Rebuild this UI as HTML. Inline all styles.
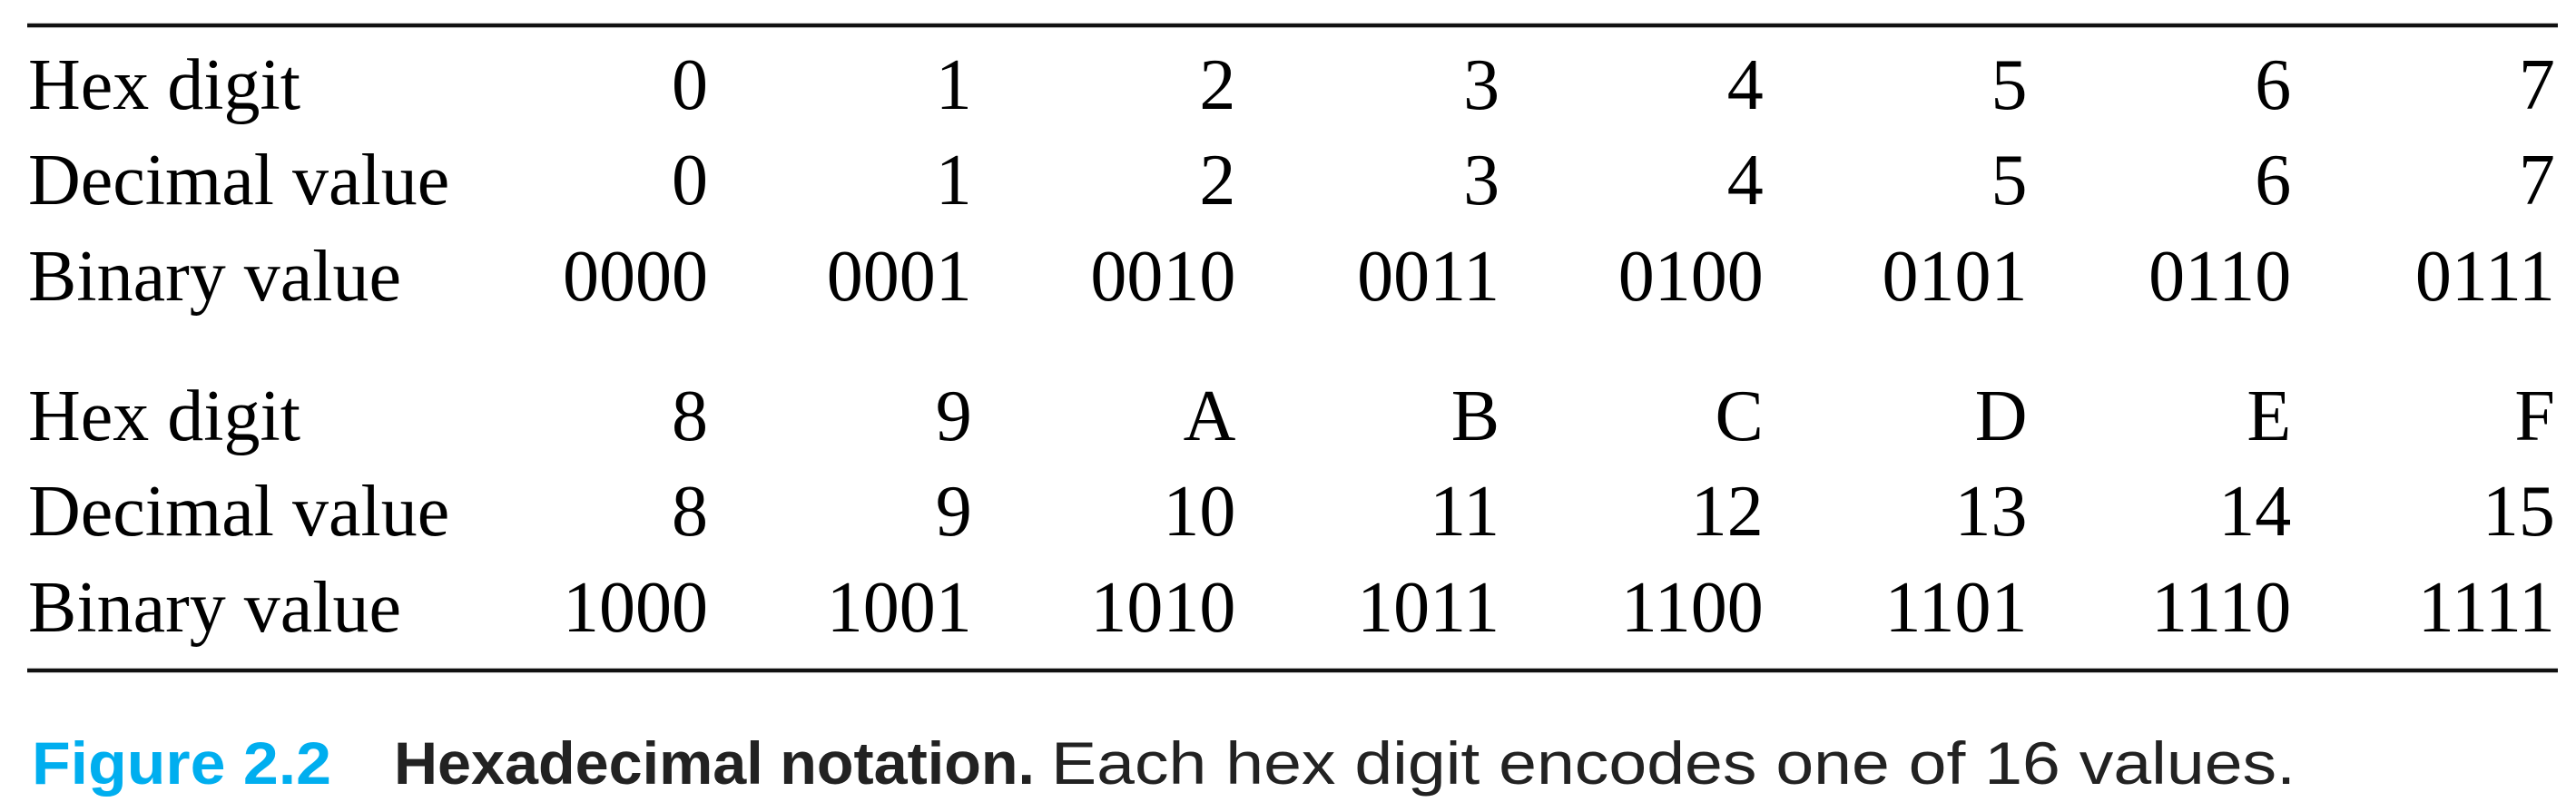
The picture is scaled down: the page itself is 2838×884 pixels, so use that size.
<!DOCTYPE html>
<html><head><meta charset="utf-8"><style>
html,body{margin:0;padding:0;background:#fff;}
svg{display:block;}
</style></head><body>
<svg width="2838" height="884" viewBox="0 0 2838 884" xmlns="http://www.w3.org/2000/svg">
<line x1="30" y1="28" x2="2818" y2="28" stroke="#111" stroke-width="4.5"/>
<line x1="30" y1="739" x2="2818" y2="739" stroke="#111" stroke-width="4.5"/>
<g id="tbl" font-family="'Liberation Serif', serif" font-size="80" fill="#000"></g>
<text x="35" y="864" font-family="'Liberation Sans', sans-serif" font-weight="bold" font-size="66" fill="#00AEEF" textLength="330" lengthAdjust="spacingAndGlyphs">Figure 2.2</text>
<text x="434" y="864" font-family="'Liberation Sans', sans-serif" font-weight="bold" font-size="66" fill="#222" textLength="706" lengthAdjust="spacingAndGlyphs">Hexadecimal notation.</text>
<text x="1158" y="864" font-family="'Liberation Sans', sans-serif" font-size="66" fill="#222" textLength="1371" lengthAdjust="spacingAndGlyphs">Each hex digit encodes one of 16 values.</text>
</svg>
<script>
const hexDigits=["0","1","2","3","4","5","6","7","8","9","A","B","C","D","E","F"];
const decValues=["0","1","2","3","4","5","6","7","8","9","10","11","12","13","14","15"];
const binValues=["0000","0001","0010","0011","0100","0101","0110","0111","1000","1001","1010","1011","1100","1101","1110","1111"];
const rowLabels=["Hex digit","Decimal value","Binary value"];
</script>
<script>
(function(){
const NS="http://www.w3.org/2000/svg";
const g=document.getElementById('tbl');
const blockBase=[[120,225,331],[485,590,696]];
const colRight=i=>780+i*290.7;
const rows=[hexDigits,decValues,binValues];
const rowNames=['hex','decimal','binary'];
for(let b=0;b<2;b++){
 for(let r=0;r<3;r++){
  const y=blockBase[b][r];
  const lab=document.createElementNS(NS,'text');
  
  
  lab.setAttribute('x',31);lab.setAttribute('y',y);
  lab.textContent=rowLabels[r];
  g.appendChild(lab);
  for(let c=0;c<8;c++){
   const idx=b*8+c;
   const t=document.createElementNS(NS,'text');
   
   
   t.setAttribute('x',colRight(c));t.setAttribute('y',y);
   t.setAttribute('text-anchor','end');
   t.textContent=rows[r][idx];
   g.appendChild(t);
  }
 }
}
})();
</script>
</body></html>
